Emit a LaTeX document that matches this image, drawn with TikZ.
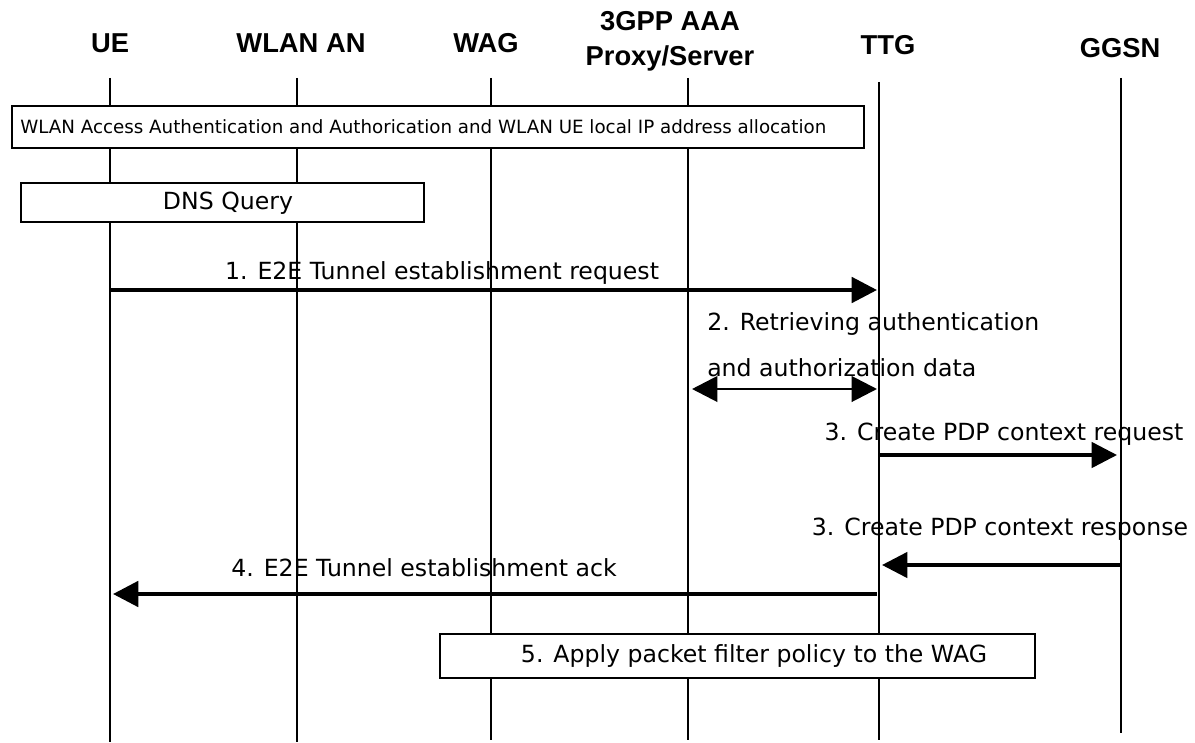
\documentclass[tikz,border=0pt]{standalone}
\usepackage{fontspec}
\setmainfont{DejaVu Sans}
\newfontfamily\headfont{Liberation Sans}
\usetikzlibrary{arrows.meta}
\begin{document}
\begin{tikzpicture}[x=0.75pt,y=-0.75pt]
  \tikzset{entity/.style={font=\headfont\bfseries\fontsize{20.5}{25.5}\selectfont, inner sep=0pt, align=center, anchor=base},
    lifeline/.style={line width=1.1pt},
    msgtext/.style={font=\fontsize{17.7}{20}\selectfont, inner sep=0pt, anchor=base},
    stepbox/.style={draw, line width=1.1pt, fill=white, inner sep=0pt},
    head/.tip={Triangle[length=19pt,width=19pt]},
    call/.style={line width=2.6pt, -head}}
  \useasboundingbox (0,0) rectangle (1195,742);

  % entities
  \node[entity] at (110,53) (h_ue) {UE};
  \node[entity] at (301,53) (h_wlan) {WLAN AN};
  \node[entity] at (486,53) (h_wag) {WAG};
  \node[entity] at (670,65) (h_aaa) {3GPP AAA\\Proxy/Server};
  \node[entity] at (888,55) (h_ttg) {TTG};
  \node[entity] at (1120,58) (h_ggsn) {GGSN};

  % lifelines
  \coordinate (t_ue) at (110,78);    \coordinate (b_ue) at (110,742);
  \coordinate (t_wlan) at (297,78);  \coordinate (b_wlan) at (297,742);
  \coordinate (t_wag) at (491,78);   \coordinate (b_wag) at (491,740);
  \coordinate (t_aaa) at (688,78);   \coordinate (b_aaa) at (688,740);
  \coordinate (t_ttg) at (879,82);   \coordinate (b_ttg) at (879,740);
  \coordinate (t_ggsn) at (1121,78); \coordinate (b_ggsn) at (1121,733);
  \draw[lifeline] (t_ue) -- (b_ue);
  \draw[lifeline] (t_wlan) -- (b_wlan);
  \draw[lifeline] (t_wag) -- (b_wag);
  \draw[lifeline] (t_aaa) -- (b_aaa);
  \draw[lifeline] (t_ttg) -- (b_ttg);
  \draw[lifeline] (t_ggsn) -- (b_ggsn);

  % boxes
  \node[stepbox, minimum width=639pt, minimum height=31.5pt] at (438,127) (box_auth) {};
  \node[msgtext, font=\fontsize{13.7}{16}\selectfont, anchor=west] at (20,127) (txt_auth) {WLAN Access Authentication and Authorication and WLAN UE local IP address allocation};
  \node[stepbox, minimum width=302.25pt, minimum height=29.25pt] at (222.5,202.5) (box_dns) {};
  \node[msgtext, anchor=center] at (228,203) (txt_dns) {DNS Query};
  \node[stepbox, minimum width=446.25pt, minimum height=33pt] at (737.5,656) (box_filter) {};
  \node[msgtext, anchor=center] at (754,656) (txt_filter) {5. Apply packet filter policy to the WAG};

  % messages
  \coordinate (m1_s) at (110,290);  \coordinate (m1_e) at (877,290);
  \coordinate (m2_s) at (692,389);  \coordinate (m2_e) at (877,389);
  \coordinate (m3_s) at (879,455);  \coordinate (m3_e) at (1117,455);
  \coordinate (m3r_s) at (1121,565); \coordinate (m3r_e) at (882,565);
  \coordinate (m4_s) at (877,594);  \coordinate (m4_e) at (113,594);

  \draw[call, line width=3pt] (m1_s) -- (m1_e);
  \draw[call, line width=2.2pt, head-head] (m2_s) -- (m2_e);
  \draw[call] (m3_s) -- (m3_e);
  \draw[call] (m3r_s) -- (m3r_e);
  \draw[call, line width=3pt] (m4_s) -- (m4_e);

  \node[msgtext] at (442,279) (l_m1) {1. E2E Tunnel establishment request};
  \node[msgtext, anchor=base west] at (707,330) (l_m2a) {2. Retrieving authentication};
  \node[msgtext, anchor=base west] at (707,376) (l_m2b) {and authorization data};
  \node[msgtext] at (1004,440) (l_m3) {3. Create PDP context request};
  \node[msgtext] at (1000,535) (l_m3r) {3. Create PDP context response};
  \node[msgtext] at (424,576) (l_m4) {4. E2E Tunnel establishment ack};
\end{tikzpicture}
\end{document}
